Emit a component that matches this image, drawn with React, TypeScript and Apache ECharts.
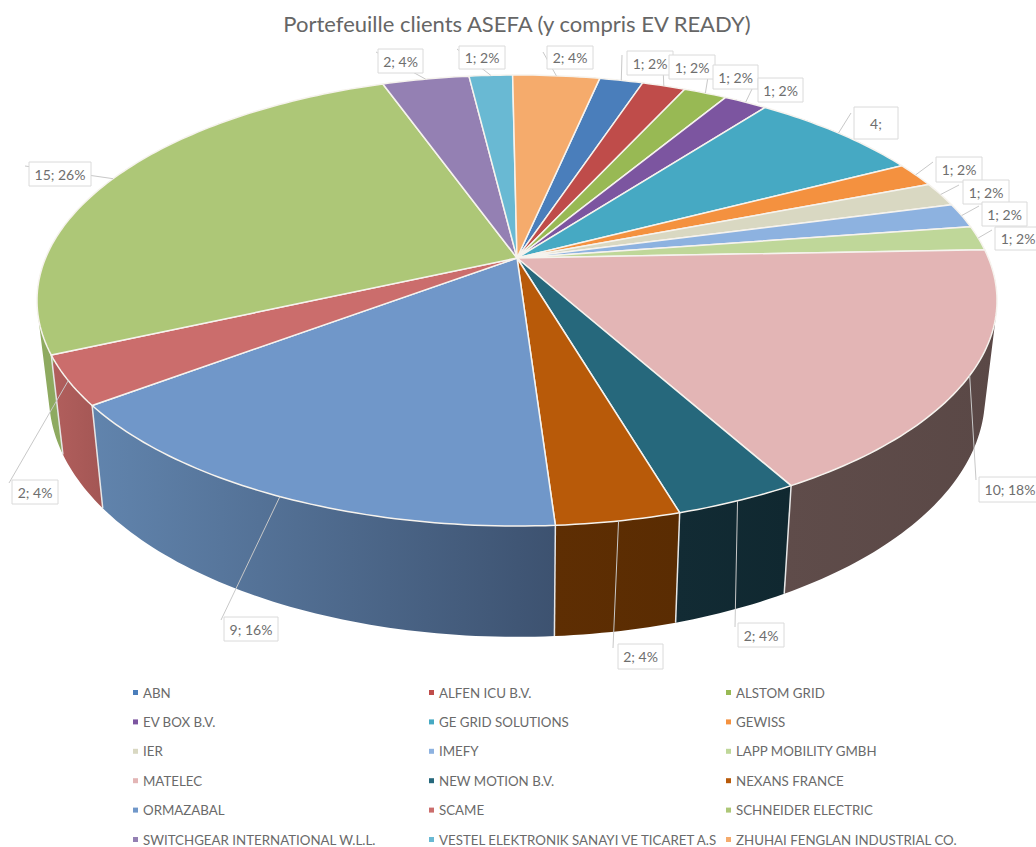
import React, { useEffect, useRef } from "react";
import * as echarts from "echarts";

const TITLE = "Portefeuille clients ASEFA (y compris EV READY)";
const NAMES = [
  "ABN", "ALFEN ICU B.V.", "ALSTOM GRID", "EV BOX B.V.", "GE GRID SOLUTIONS", "GEWISS",
  "IER", "IMEFY", "LAPP MOBILITY GMBH", "MATELEC", "NEW MOTION B.V.", "NEXANS FRANCE",
  "ORMAZABAL", "SCAME", "SCHNEIDER ELECTRIC", "SWITCHGEAR INTERNATIONAL W.L.L.",
  "VESTEL ELEKTRONIK SANAYI VE TICARET A.S", "ZHUHAI FENGLAN INDUSTRIAL CO.",
];
const VALUES = [1, 1, 1, 1, 4, 1, 1, 1, 1, 10, 2, 2, 9, 2, 15, 2, 1, 2];
const LABELS = [
  "1; 2%", "1; 2%", "1; 2%", "1; 2%", "4;", "1; 2%", "1; 2%", "1; 2%", "1; 2%",
  "10; 18%", "2; 4%", "2; 4%", "9; 16%", "2; 4%", "15; 26%", "2; 4%", "1; 2%", "2; 4%",
];
const TOP_COLORS = [
  "#4a7ebb", "#bf4c4a", "#98b954", "#7c55a0", "#46a9c3", "#f4913f", "#d9d8c2", "#8db2e0", "#bfd799",
  "#e3b5b5", "#26687c", "#b85a09", "#7097c9", "#cb6d6c", "#adc777", "#9480b3", "#69b9d3", "#f5ab6c",
];
const WALL_COLORS: string[][] = [
  ["#3a6391", "#3a6391"], ["#953b39", "#953b39"], ["#778f41", "#778f41"], ["#60417c", "#60417c"],
  ["#368296", "#368296"], ["#bd7030", "#bd7030"], ["#a8a796", "#a8a796"], ["#6d89ad", "#6d89ad"],
  ["#94a676", "#94a676"], ["#5f4c4a", "#5a4846"], ["#122b34", "#102830"], ["#5e2e03", "#5a2c02"],
  ["#6184ad", "#3d5270"], ["#b25f5d", "#a35654"], ["#8eaa60", "#8eaa60"], ["#726389", "#726389"],
  ["#518fa3", "#518fa3"], ["#bd8453", "#bd8453"],
];

// Layout only: label boxes [x, y, w, h] and the leader's way-points after the rim anchor.
const LABEL_BOXES = [
  [627, 51, 46, 24], [669, 55, 46, 24], [713, 65, 45, 24], [758, 78, 45, 24], [854, 107, 44, 32],
  [936, 157, 46, 25], [963, 180, 46, 24], [982, 202, 45, 24], [995, 227, 46, 23], [979, 477, 62, 25],
  [738, 623, 46, 24], [618, 644, 45, 25], [224, 617, 54, 24], [12, 480, 46, 24], [29, 162, 62, 24],
  [378, 49, 45, 24], [459, 46, 46, 23], [547, 46, 46, 23],
];
const LEADERS = [
  [[622, 55]], [[663, 67], [669, 67]], [[708, 77], [713, 77]], [[753, 87], [758, 87]], [[851, 113]],
  [[933, 162]], [[959, 185]], [[979, 206]], [[992, 230]], [[976, 480]],
  [[735, 627]], [[613, 648]], [[221, 620]], [[9, 483]], [[25, 166]],
  [[376, 52]], [[457, 49]], [[543, 52]],
];

const CX = 517, CY = 258, F = 471.4, G = 217.5, K = -0.1885, START = 12;
const WALL_SX = 0.975, WALL_SY = 1.067, WALL_DY = 75.6;
const TOTAL = VALUES.reduce((a, b) => a + b, 0);

const project = (deg: number): number[] => {
  const r = (deg * Math.PI) / 180;
  const x = Math.sin(r), y = -Math.cos(r), d = 1 + K * y;
  return [CX + (F * x) / d, CY + (G * y) / d];
};
const lower = (p: number[]): number[] => [CX + WALL_SX * (p[0] - CX), WALL_SY * p[1] + WALL_DY];
const arc = (a: number, b: number): number[][] => {
  const n = Math.max(2, Math.ceil(b - a));
  const out: number[][] = [];
  for (let i = 0; i <= n; i++) out.push(project(a + ((b - a) * i) / n));
  return out;
};
const area = (q: number[][]): number =>
  q.reduce((s, p, j) => {
    const n = q[(j + 1) % q.length];
    return s + p[0] * n[1] - n[0] * p[1];
  }, 0);
// Traces every small quad between the upper and lower rim in the same winding direction, so that
// no sweep cancels another and the silhouette reaches the tangent lines at the far left and right.
const wallPath = (rim: number[][]): number[][] => {
  const out: number[][] = [];
  for (let k = 0; k < rim.length - 1; k++) {
    const q = [rim[k], lower(rim[k]), lower(rim[k + 1]), rim[k + 1]];
    if (area(q) < 0) q.reverse();
    out.push(rim[k], ...q, q[0], rim[k], rim[k + 1]);
  }
  return out.concat(rim.slice().reverse());
};

const makeRender = (i: number) => (_params: any, api: any) => {
  const before = VALUES.slice(0, i).reduce((a, b) => a + b, 0);
  const a0 = START + (before / TOTAL) * 360;
  const a1 = a0 + (api.value(0) / TOTAL) * 360;
  const rim = arc(a0, a1);
  const mid = project((a0 + a1) / 2);
  const box = LABEL_BOXES[i];
  const children: any[] = [
    {
      type: "polygon", z2: 1, silent: true, shape: { points: wallPath(rim) },
      style: {
        fill: {
          type: "linear", x: 0, y: 0, x2: 1, y2: 0,
          colorStops: [{ offset: 0, color: WALL_COLORS[i][0] }, { offset: 1, color: WALL_COLORS[i][1] }],
        },
      },
    },
    {
      type: "line", z2: 2, silent: true,
      shape: { x1: rim[0][0], y1: rim[0][1], x2: lower(rim[0])[0], y2: lower(rim[0])[1] },
      style: { stroke: "#e6e6e6", lineWidth: 1.5 },
    },
    {
      type: "polygon", z2: 3, silent: true, shape: { points: [[CX, CY], ...rim] },
      style: { fill: TOP_COLORS[i], stroke: "#f6f3ee", lineWidth: 1.5, lineJoin: "round" },
    },
    {
      type: "polyline", z2: 4, silent: true, shape: { points: [mid, ...LEADERS[i]] },
      style: { stroke: "#c8c8c8", lineWidth: 1, fill: "none" },
    },
    {
      type: "rect", z2: 5, silent: true, shape: { x: box[0], y: box[1], width: box[2], height: box[3] },
      style: { fill: "#ffffff", stroke: "#dadada", lineWidth: 1 },
    },
    {
      type: "text", z2: 6, silent: true,
      style: {
        x: box[0] + box[2] / 2, y: box[1] + box[3] / 2, text: LABELS[i],
        fill: "#6e6e6e", font: "14px Lato", align: "center", verticalAlign: "middle",
      },
    },
  ];
  return { type: "group", children };
};

const legendColumn = (col: number, left: number) => ({
  left, top: 686, height: 400, orient: "vertical" as const, itemWidth: 5, itemHeight: 5, itemGap: 16.4,
  padding: 0, icon: "rect", selectedMode: false,
  data: NAMES.filter((_, i) => i % 3 === col),
  textStyle: { color: "#6a6a6a", fontFamily: "Lato", fontSize: 13.3 },
});

export default function App() {
  const ref = useRef<HTMLDivElement>(null);
  useEffect(() => {
    const chart = echarts.init(ref.current!, undefined, { renderer: "svg" });
    chart.setOption({
      animation: false,
      backgroundColor: "#ffffff",
      title: {
        text: TITLE, left: 512, top: 7, textAlign: "center",
        textStyle: { color: "#666666", fontFamily: "Lato", fontSize: 22, fontWeight: "normal" },
      },
      legend: [legendColumn(0, 133), legendColumn(1, 429), legendColumn(2, 726)],
      series: NAMES.map((name, i) => ({
        type: "custom", name, coordinateSystem: "none", silent: true,
        itemStyle: { color: TOP_COLORS[i] },
        data: [[VALUES[i]]],
        renderItem: makeRender(i),
      })),
    });
    return () => chart.dispose();
  }, []);
  return (
    <div
      ref={ref}
      style={{ position: "absolute", left: 0, top: 0, width: 1036, height: 847, overflow: "hidden" }}
    />
  );
}
